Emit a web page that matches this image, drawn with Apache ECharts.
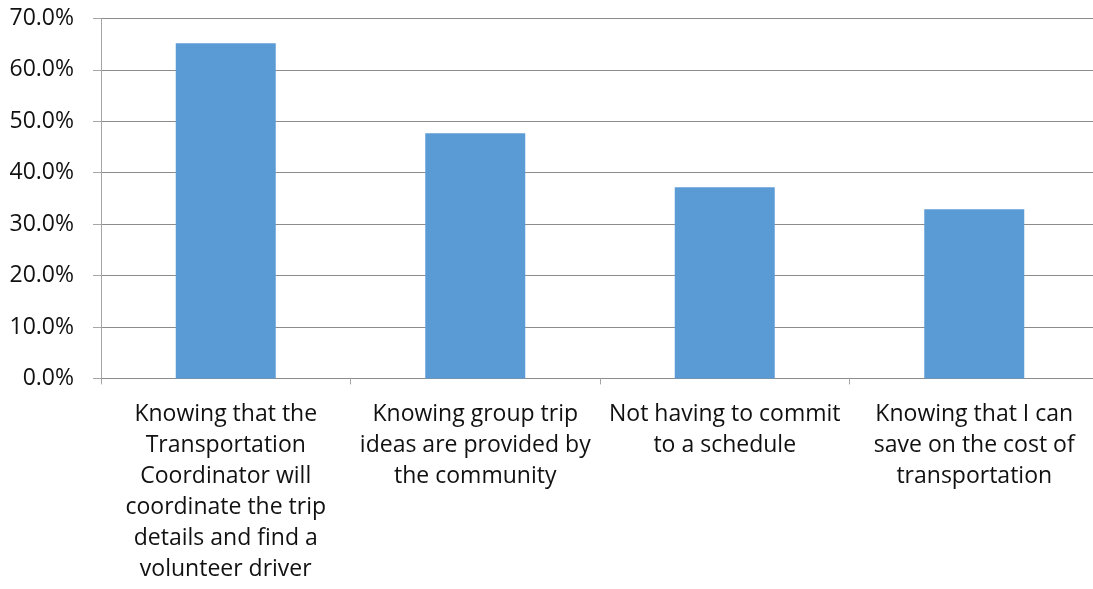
<!DOCTYPE html>
<html>
<head>
<meta charset="utf-8">
<style>
  html, body { margin: 0; padding: 0; background: #ffffff; overflow: hidden; }
  #chart { width: 1100px; height: 589px; }
</style>
<script src="https://cdn.jsdelivr.net/npm/echarts@6/dist/echarts.min.js"></script>
</head>
<body>
<div id="chart"></div>
<script>
// Reasons for using the community transportation service
const categories = [
  'Knowing that the\nTransportation\nCoordinator will\ncoordinate the trip\ndetails and find a\nvolunteer driver',
  'Knowing group trip\nideas are provided by\nthe community',
  'Not having to commit\nto a schedule',
  'Knowing that I can\nsave on the cost of\ntransportation'
];
const shares = [65.2, 47.7, 37.2, 32.9]; // percent of respondents
const yTicks = { min: 0, max: 70, step: 10 };

const FONT = '"Open Sans", Lato, sans-serif';
const chart = echarts.init(document.getElementById('chart'), null, { renderer: 'canvas' });

chart.setOption({
  animation: false,
  backgroundColor: '#ffffff',
  grid: { left: 101, top: 18.5, width: 998, bottom: 210.6, containLabel: false },
  xAxis: {
    type: 'category',
    data: categories,
    axisLine: { lineStyle: { color: '#8c8c8c', width: 1 } },
    axisTick: { show: true, length: 6, alignWithLabel: false, lineStyle: { color: '#a6a6a6' } },
    axisLabel: {
      interval: 0,
      margin: 21,
      color: '#111111',
      fontFamily: FONT,
      fontSize: 23,
      lineHeight: 31,
      align: 'center'
    }
  },
  yAxis: {
    type: 'value',
    min: yTicks.min,
    max: yTicks.max,
    interval: yTicks.step,
    axisLine: { show: true, lineStyle: { color: '#a6a6a6', width: 1 } },
    axisTick: { show: true, length: 8, lineStyle: { color: '#a6a6a6' } },
    splitLine: { show: true, lineStyle: { color: '#8c8c8c', width: 1 } },
    axisLabel: {
      margin: 27,
      color: '#111111',
      fontFamily: FONT,
      fontSize: 23,
      formatter: v => v.toFixed(1) + '%'
    }
  },
  series: [{
    type: 'bar',
    data: shares,
    barWidth: 100,
    itemStyle: { color: '#5b9bd5' }
  }]
});
</script>
</body>
</html>
